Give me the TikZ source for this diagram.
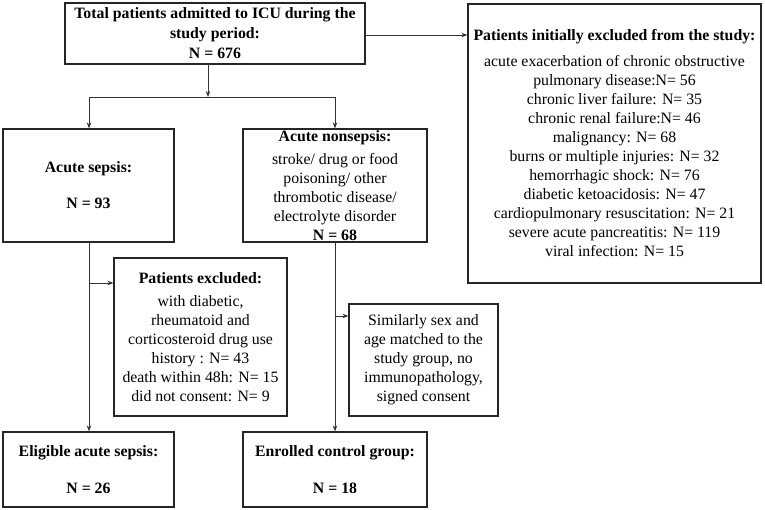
\documentclass[tikz,border=0pt]{standalone}
\usepackage{fontspec}
\setmainfont{Liberation Serif}
\usetikzlibrary{arrows.meta,calc}
\begin{document}
\begin{tikzpicture}[x=1pt,y=-1pt,
  box/.style={draw=black!85,line width=1.2pt,inner sep=0pt,align=center,
    font=\fontsize{15.8}{19}\selectfont},
  conn/.style={draw=black!80,line width=0.8pt},
  arr/.style={conn,-{Stealth[length=6pt,width=4.5pt]}}]
\useasboundingbox (0,0) rectangle (765,510);
\node[box,minimum width=300pt,minimum height=61pt] (top) at (215,33.5)
  {\bfseries Total patients admitted to ICU during the\\[1pt]\bfseries study period:\\[1pt]\bfseries N = 676};
\node[box,minimum width=293pt,minimum height=279pt] (excla) at (614.5,143.5)
  {\bfseries Patients initially excluded from the study:\\[7pt]
   acute exacerbation of chronic obstructive\\
   pulmonary disease:N= 56\\
   chronic liver failure: N= 35\\
   chronic renal failure:N= 46\\
   malignancy: N= 68\\
   burns or multiple injuries: N= 32\\
   hemorrhagic shock: N= 76\\
   diabetic ketoacidosis: N= 47\\
   cardiopulmonary resuscitation: N= 21\\
   severe acute pancreatitis: N= 119\\
   viral infection: N= 15};
\node[box,minimum width=171pt,minimum height=113pt] (sepsis) at (88.5,185.5)
  {\bfseries Acute sepsis:\\[17pt]\bfseries N = 93};
\node[box,minimum width=184pt,minimum height=113pt] (nonsep) at (335,185.5)
  {\bfseries Acute nonsepsis:\\[4pt]
   stroke/ drug or food\\
   poisoning/ other\\
   thrombotic disease/\\
   electrolyte disorder\\
   \bfseries N = 68};
\node[box,minimum width=173pt,minimum height=158pt] (exclb) at (200.5,337)
  {\bfseries Patients excluded:\\[4pt]
   with diabetic,\\
   rheumatoid and\\
   corticosteroid drug use\\
   history : N= 43\\
   death within 48h: N= 15\\
   did not consent: N= 9};
\node[box,minimum width=149pt,minimum height=112pt] (similar) at (423.5,360)
  {Similarly sex and\\
   age matched to the\\
   study group, no\\
   immunopathology,\\
   signed consent};
\node[box,minimum width=171pt,minimum height=75pt] (elig) at (88.5,469.5)
  {\bfseries Eligible acute sepsis:\\[18pt]\bfseries N = 26};
\node[box,minimum width=184pt,minimum height=75pt] (enrol) at (335,469.5)
  {\bfseries Enrolled control group:\\[18pt]\bfseries N = 18};
% coordinates
\coordinate (tsrc) at (208,64);
\coordinate (split) at (208,97);
\coordinate (bl) at (89,97);
\coordinate (br) at (335,97);
\coordinate (sb) at (89,283);
\coordinate (nb) at (335,316);
% connectors
\draw[arr] (tsrc) -- (split);
\draw[conn] (bl) -- (br);
\draw[arr] (bl) -- (sepsis.north -| bl);
\draw[arr] (br) -- (nonsep.north -| br);
\draw[arr] (top.east |- 0,35) -- (excla.west |- 0,35);
\draw[arr] (sepsis.south -| sb) -- (elig.north -| sb);
\draw[arr] (sb) -- (exclb.west |- sb);
\draw[arr] (nonsep.south -| nb) -- (enrol.north -| nb);
\draw[arr] (nb) -- (similar.west |- nb);
\end{tikzpicture}
\end{document}
